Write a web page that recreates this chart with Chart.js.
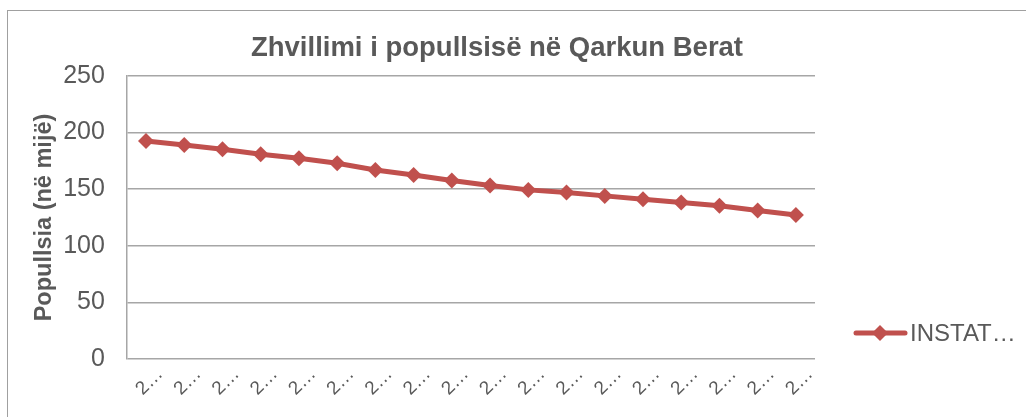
<!DOCTYPE html>
<html>
<head>
<meta charset="utf-8">
<script src="https://cdn.jsdelivr.net/npm/chart.js@4.4.0/dist/chart.umd.min.js"></script>
<style>
  html, body { margin: 0; padding: 0; background: #fff; overflow: hidden; }
  #wrap { position: relative; width: 1026px; height: 417px; }
  #frame { position: absolute; left: 7px; top: 10px; width: 1100px; height: 500px;
           border: 1.5px solid #a0a0a0; pointer-events: none; }
</style>
</head>
<body>
<div id="wrap">
  <canvas id="popChart" width="1026" height="417"></canvas>
  <div id="frame"></div>
</div>
<script>
// Popullsia e Qarkut Berat (ne mije)
const years = ['2001', '2002', '2003', '2004', '2005', '2006', '2007', '2008', '2009',
               '2010', '2011', '2012', '2013', '2014', '2015', '2016', '2017', '2018'];
const population = [192.6, 189.1, 185.3, 180.9, 177.4, 173.0, 167.0, 162.6, 157.6,
                    153.2, 149.4, 147.0, 144.1, 141.2, 138.2, 135.3, 131.1, 127.3];
const yTicks = [0, 50, 100, 150, 200, 250];
const seriesName = 'INSTAT…';
const chartTitle = 'Zhvillimi i popullsisë në Qarkun Berat';

const textGray = '#595959';
const gridGray = '#a6a6a6';
const red = '#c0504d';
const fontFam = '"Liberation Sans", Arial, sans-serif';

// title and right-hand legend (line + diamond), drawn by hand
const extras = {
    id: 'extras',
    afterDraw(chart) {
        const c = chart.ctx;
        const ds = chart.data.datasets[0];
        c.save();
        c.fillStyle = textGray;
        c.font = 'bold 27.5px ' + fontFam;
        c.textAlign = 'center';
        c.textBaseline = 'middle';
        c.fillText(chartTitle, 497, 48);

        const y = 333;
        c.strokeStyle = red;
        c.lineWidth = 5;
        c.lineCap = 'round';
        c.beginPath();
        c.moveTo(856, y);
        c.lineTo(905, y);
        c.stroke();
        c.fillStyle = red;
        c.beginPath();
        c.moveTo(880, y - 8);
        c.lineTo(888, y);
        c.lineTo(880, y + 8);
        c.lineTo(872, y);
        c.closePath();
        c.fill();
        c.fillStyle = textGray;
        c.font = '24px ' + fontFam;
        c.textAlign = 'left';
        c.fillText(ds.label, 910, y + 1);
        c.restore();
    }
};

const ctx = document.getElementById('popChart').getContext('2d');
const popChart = new Chart(ctx, {
    type: 'line',
    data: {
        labels: years,
        datasets: [{
            label: seriesName,
            data: population,
            borderColor: red,
            backgroundColor: red,
            borderWidth: 5,
            pointStyle: 'rectRot',
            pointRadius: 8,
            pointBorderWidth: 0,
            pointBackgroundColor: red,
            tension: 0,
            fill: false
        }]
    },
    options: {
        responsive: false,
        animation: false,
        devicePixelRatio: 1,
        layout: { padding: { left: 30, right: 211, top: 76, bottom: 0 } },
        plugins: {
            legend: { display: false },
            tooltip: { enabled: false },
            title: { display: false }
        },
        scales: {
            x: {
                offset: true,
                grid: { display: false },
                border: { display: false },
                afterFit: (axis) => { axis.height = 58; },
                ticks: {
                    color: textGray,
                    font: { family: fontFam, size: 19 },
                    minRotation: 45,
                    maxRotation: 45,
                    autoSkip: false,
                    padding: -4,
                    labelOffset: 14,
                    callback: function (v) { return this.getLabelForValue(v).charAt(0) + '…'; }
                }
            },
            y: {
                min: 0,
                max: 250,
                afterBuildTicks: (axis) => { axis.ticks = yTicks.map(v => ({ value: v })); },
                grid: { color: gridGray, lineWidth: 1.5, drawTicks: false },
                border: { display: true, color: gridGray, width: 1.5 },
                ticks: {
                    color: textGray,
                    font: { family: fontFam, size: 25 },
                    padding: 22
                },
                title: {
                    display: true,
                    text: 'Popullsia (në mijë)',
                    color: textGray,
                    font: { family: fontFam, size: 23.5, weight: 'bold' },
                    padding: { top: 0, bottom: -17 }
                }
            }
        }
    },
    plugins: [extras]
});
</script>
</body>
</html>
